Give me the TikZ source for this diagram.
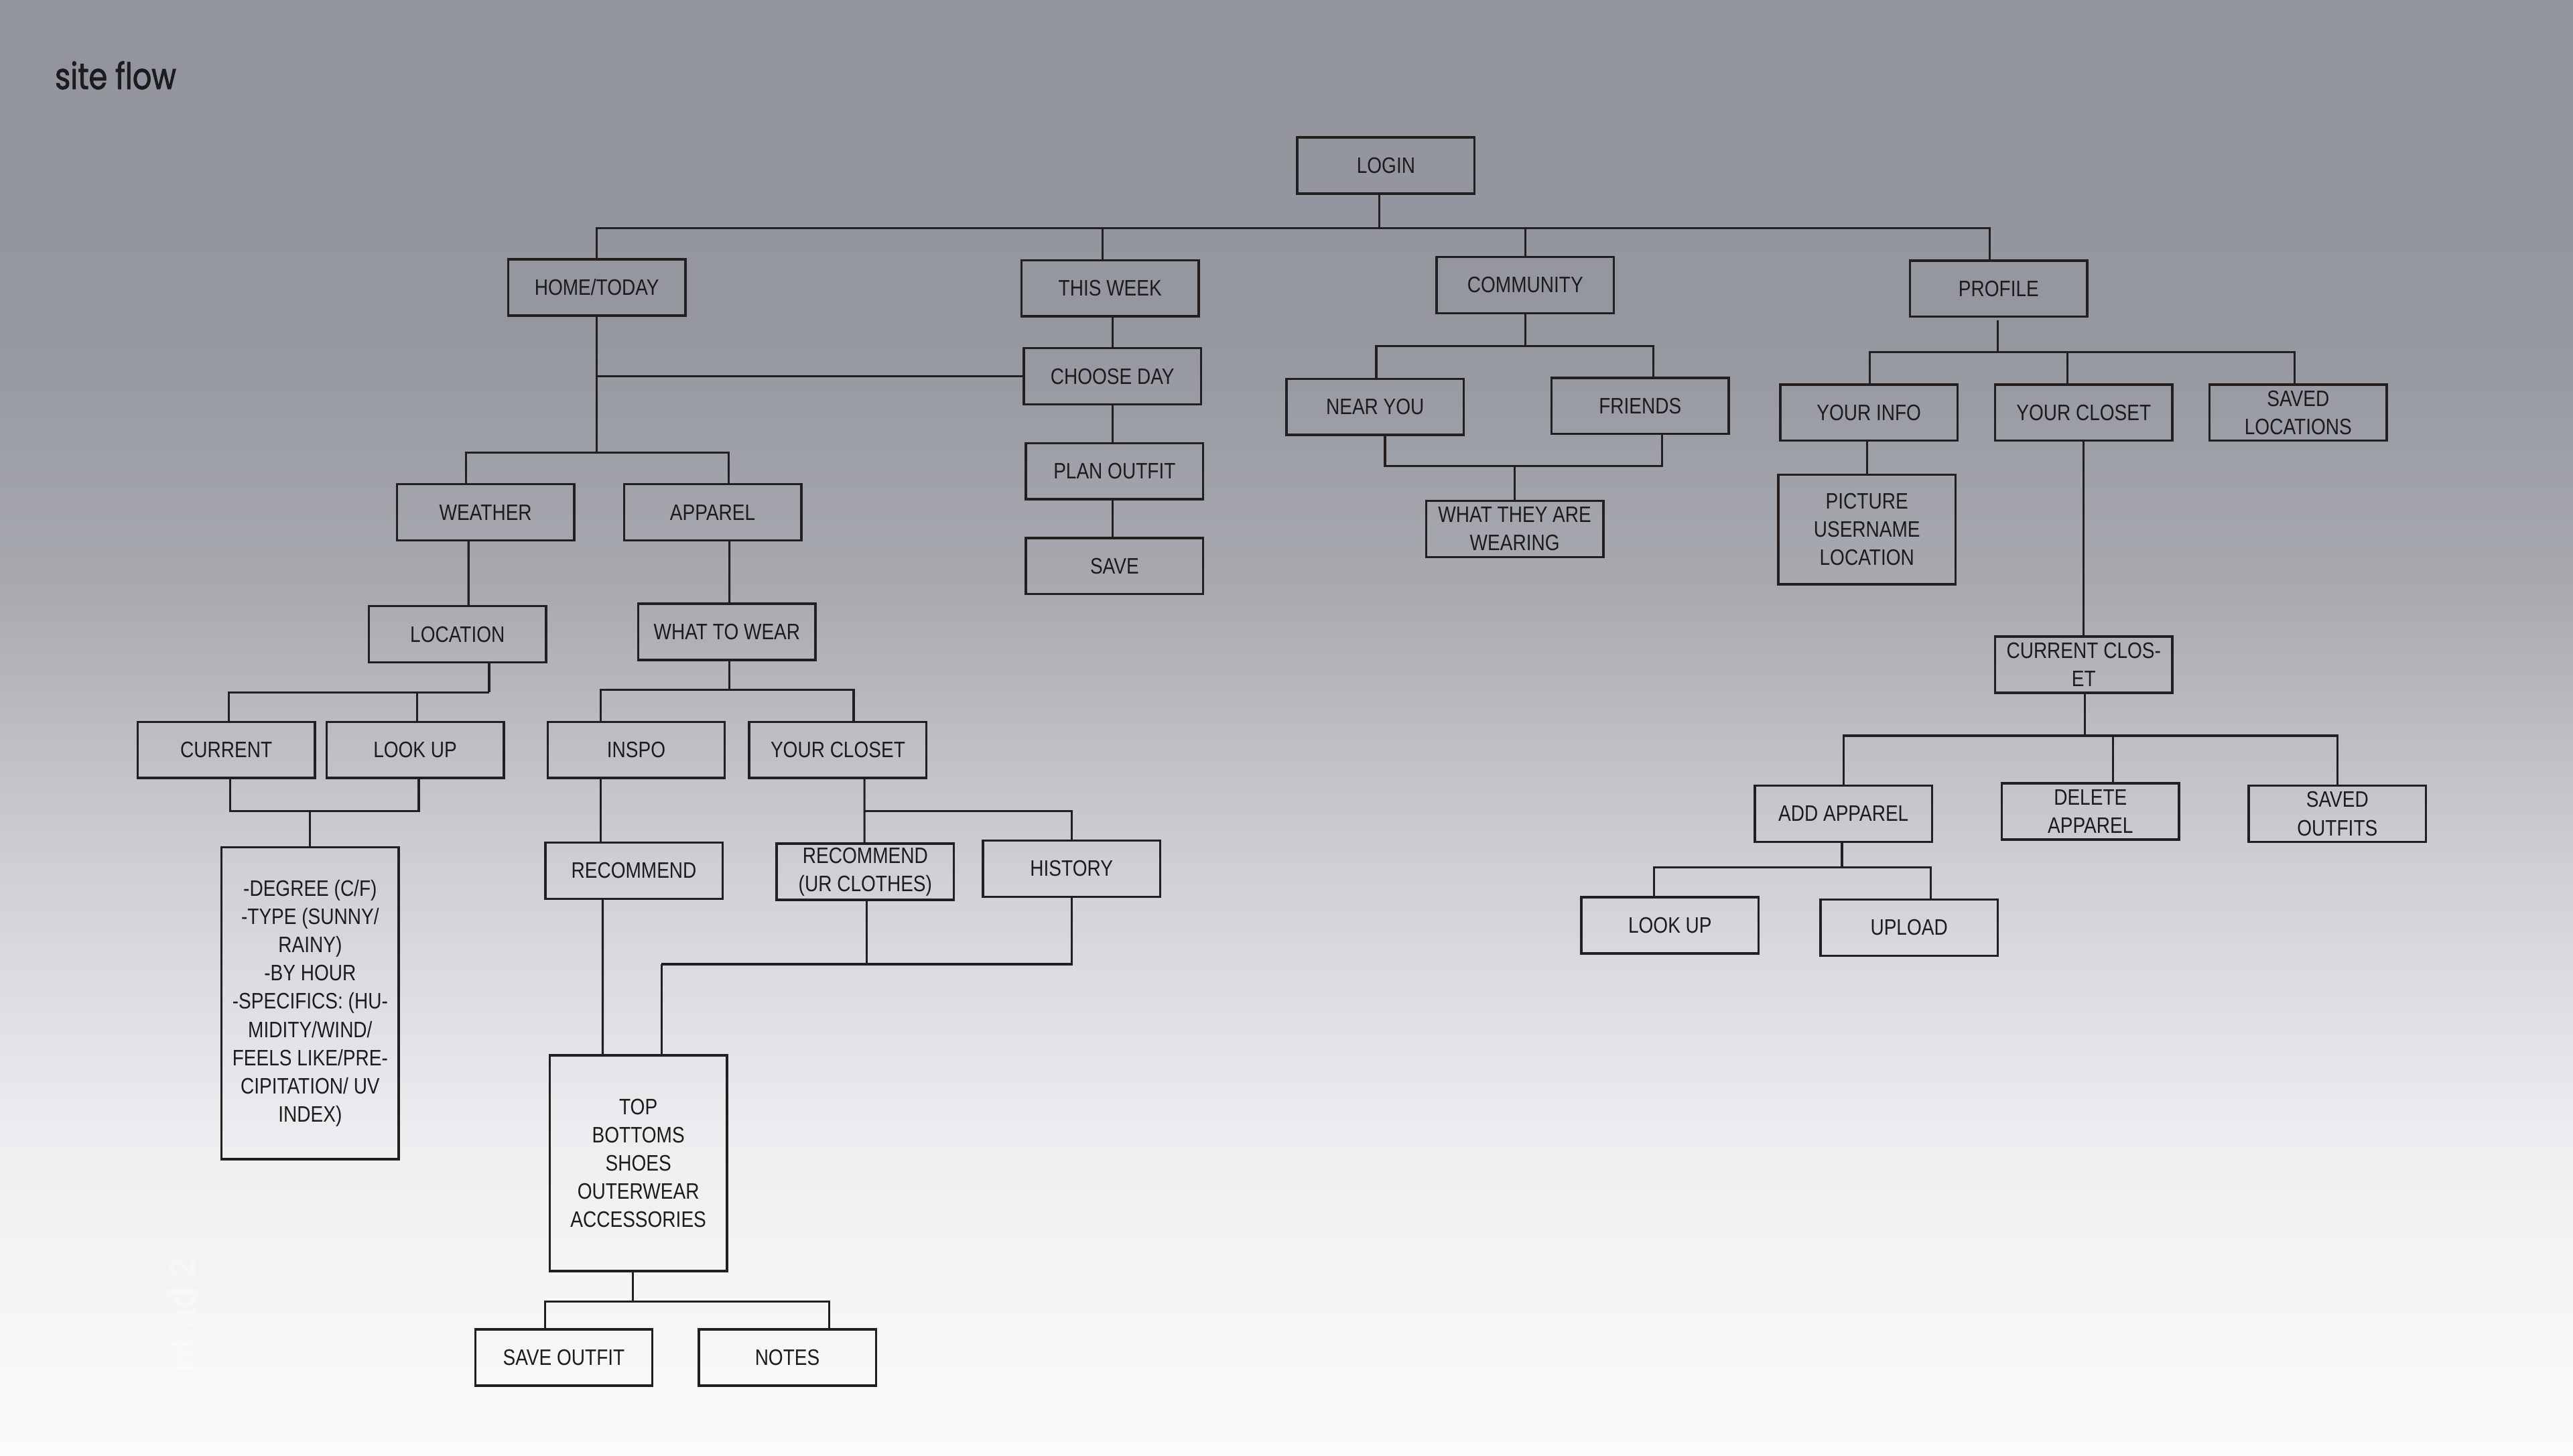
\documentclass[tikz,border=0pt]{standalone}
\usepackage{fontspec}
\setmainfont{Liberation Sans}
\newfontfamily\boxfont[FakeStretch=0.84]{Liberation Sans}
\newfontfamily\titlefont[FakeStretch=0.82,FakeBold=1.6]{Poppins}
\usetikzlibrary{calc}
\definecolor{linec}{HTML}{231F20}
\definecolor{txt}{HTML}{1C1C1E}
\definecolor{bg0}{RGB}{146,149,157}
\definecolor{bg1}{RGB}{148,151,158}
\definecolor{bg2}{RGB}{168,170,176}
\definecolor{bg3}{RGB}{205,206,210}
\definecolor{bg4}{RGB}{238,239,241}
\definecolor{bg5}{RGB}{251,251,251}
\begin{document}
\begin{tikzpicture}[x=0.0245cm,y=-0.0245cm,
  box/.style={draw=linec,line width=1pt,minimum width=2.646cm,minimum height=0.838cm,
    inner sep=0pt,align=center,text=txt,font=\boxfont\fontsize{9.5}{12}\selectfont},
  conn/.style={draw=linec,line width=0.9pt}]
\useasboundingbox (0,0) rectangle (1568,887);
% background
\shade[top color=bg0,bottom color=bg1] (0,0) rectangle (1568,201);
\shade[top color=bg1,bottom color=bg2] (0,200) rectangle (1568,361);
\shade[top color=bg2,bottom color=bg3] (0,360) rectangle (1568,521);
\shade[top color=bg3,bottom color=bg4] (0,520) rectangle (1568,701);
\shade[top color=bg4,bottom color=bg5] (0,700) rectangle (1568,887);

% title
\node[anchor=base west,inner sep=0pt,text=txt,font=\titlefont\fontsize{15.5}{18}\selectfont] (title) at (33.2,54.3) {site flow};
\node[rotate=90,inner sep=0pt,text=white,opacity=0.3,font=\bfseries\fontsize{15}{18}\selectfont] (printad) at (113,815) {print ad 2};

% nodes
\node[box] (login) at (844.6,100.9) {LOGIN};
\node[box] (home) at (363.7,175.2) {HOME/TODAY};
\node[box] (week) at (676.5,175.7) {THIS WEEK};
\node[box] (comm) at (929.5,173.7) {COMMUNITY};
\node[box] (prof) at (1218,175.9) {PROFILE};
\node[box] (choose) at (677.9,229.3) {CHOOSE DAY};
\node[box] (plan) at (679.2,287.2) {PLAN OUTFIT};
\node[box] (save) at (679.2,344.9) {SAVE};
\node[box] (near) at (838,248) {NEAR YOU};
\node[box] (friends) at (999.5,247.3) {FRIENDS};
\node[box] (wear) at (923.1,322.4) {WHAT THEY ARE\\WEARING};
\node[box] (info) at (1138.9,251.4) {YOUR INFO};
\node[box] (closetR) at (1269.8,251.4) {YOUR CLOSET};
\node[box] (savedloc) at (1400.5,251.4) {SAVED\\LOCATIONS};
\node[box,minimum height=1.634cm] (pic) at (1137.7,322.7) {PICTURE\\USERNAME\\LOCATION};
\node[box] (curcl) at (1269.8,405.1) {CURRENT CLOS-\\ET};
\node[box] (add) at (1123.4,495.9) {ADD APPAREL};
\node[box] (del) at (1273.9,494.5) {DELETE\\APPAREL};
\node[box] (savedout) at (1424.4,495.9) {SAVED\\OUTFITS};
\node[box] (lookR) at (1017.7,563.9) {LOOK UP};
\node[box] (upload) at (1163.4,565.3) {UPLOAD};
\node[box] (weather) at (295.9,312.2) {WEATHER};
\node[box] (apparel) at (434.3,312.2) {APPAREL};
\node[box] (location) at (278.8,386.5) {LOCATION};
\node[box] (wtw) at (443,385.1) {WHAT TO WEAR};
\node[box] (current) at (137.9,457) {CURRENT};
\node[box] (lookL) at (253,457) {LOOK UP};
\node[box] (inspo) at (387.7,457) {INSPO};
\node[box] (closetL) at (510.6,457) {YOUR CLOSET};
\node[box,minimum height=4.655cm] (detail) at (189,611.4) {-DEGREE (C/F)\\-TYPE (SUNNY/\\RAINY)\\-BY HOUR\\-SPECIFICS: (HU-\\MIDITY/WIND/\\FEELS LIKE/PRE-\\CIPITATION/ UV\\INDEX)};
\node[box] (recommend) at (386.3,530.6) {RECOMMEND};
\node[box] (recur) at (527.3,531.2) {RECOMMEND\\(UR CLOTHES)};
\node[box] (history) at (653,529.4) {HISTORY};
\node[box,minimum height=3.224cm] (top) at (389,708.8) {TOP\\BOTTOMS\\SHOES\\OUTERWEAR\\ACCESSORIES};
\node[box] (saveout) at (343.6,827.3) {SAVE OUTFIT};
\node[box] (notes) at (479.8,827.3) {NOTES};

% connectors: login
\coordinate (j1) at ($(login.south)+(-4.2,20.2)$);
\draw[conn] ($(login.south)+(-4.2,0)$) -- (j1);
\draw[conn] (home.north) |- (j1);
\draw[conn] ($(week.north)+(-4.7,0)$) |- (j1);
\draw[conn] (comm.north) |- (j1);
\draw[conn] ($(prof.north)+(-5.6,0)$) |- (j1);
% home
\coordinate (j2) at ($(home.south)+(0,82.7)$);
\draw[conn] (home.south) -- (j2);
\draw[conn] (home.south |- choose.west) -- (choose.west);
\draw[conn] ($(weather.north)+(-11.8,0)$) |- (j2);
\draw[conn] ($(apparel.north)+(9.6,0)$) |- (j2);
% this week chain
\draw[conn] (week.south -| choose.north) -- (choose.north);
\draw[conn] (choose.south) -- (choose.south |- plan.north);
\draw[conn] (plan.south -| choose.south) -- (choose.south |- save.north);
% community
\coordinate (j3) at ($(comm.south)+(0,19.5)$);
\draw[conn] (comm.south) -- (j3);
\draw[conn] ($(near.north)+(0.7,0)$) |- (j3);
\draw[conn] ($(friends.north)+(8,0)$) |- (j3);
\coordinate (j4) at ($(wear.north)+(0,-20.6)$);
\draw[conn] ($(near.south)+(6,0)$) |- (j4);
\draw[conn] ($(friends.south)+(13.2,0)$) |- (j4);
\draw[conn] (j4) -- (wear.north);
% profile
\coordinate (j5) at ($(prof.south)+(-0.5,20.7)$);
\draw[conn] ($(prof.south)+(-0.5,1.5)$) -- (j5);
\draw[conn] ($(info.north)+(0.7,0)$) |- (j5);
\draw[conn] ($(closetR.north)+(-9.9,0)$) |- (j5);
\draw[conn] ($(savedloc.north)+(-2.2,0)$) |- (j5);
\draw[conn] (pic.north |- info.south) -- (pic.north);
\draw[conn] (closetR.south) -- (curcl.north);
% current closet
\coordinate (j6) at ($(curcl.south)+(0.8,25.4)$);
\draw[conn] ($(curcl.south)+(0.8,0)$) -- (j6);
\draw[conn] (add.north) |- (j6);
\draw[conn] ($(del.north)+(13.8,0)$) |- (j6);
\draw[conn] (savedout.north) |- (j6);
\coordinate (j7) at ($(add.south)+(-0.9,14.9)$);
\draw[conn] ($(add.south)+(-0.9,0)$) -- (j7);
\draw[conn] ($(lookR.north)+(-9.6,0)$) |- (j7);
\draw[conn] ($(upload.north)+(13.1,0)$) |- (j7);
% weather
\draw[conn] ($(weather.south)+(-10.4,0)$) -- ($(location.north)+(6.7,0)$);
\coordinate (j8) at ($(location.south)+(19.3,17.6)$);
\draw[conn] ($(location.south)+(19.3,0)$) -- (j8);
\draw[conn] ($(current.north)+(1.4,0)$) |- (j8);
\draw[conn] ($(lookL.north)+(1.3,0)$) |- (j8);
\coordinate (j9) at ($(detail.north)+(0,-21.4)$);
\draw[conn] ($(current.south)+(2.3,0)$) |- (j9);
\draw[conn] ($(lookL.south)+(2.2,0)$) |- (j9);
\draw[conn] (j9) -- (detail.north);
% apparel
\draw[conn] ($(apparel.south)+(10.2,0)$) -- ($(wtw.north)+(1.5,0)$);
\coordinate (j10) at ($(wtw.south)+(1.4,17.4)$);
\draw[conn] ($(wtw.south)+(1.4,0)$) -- (j10);
\draw[conn] ($(inspo.north)+(-21.7,0)$) |- (j10);
\draw[conn] ($(closetL.north)+(9.6,0)$) |- (j10);
\draw[conn] ($(inspo.south)+(-21.7,0)$) -- ($(recommend.north)+(-20.3,0)$);
\draw[conn] ($(closetL.south)+(16.2,0)$) -- ($(recur.north)+(-0.5,0)$);
\coordinate (j13) at ($(closetL.south)+(16.2,19.6)$);
\draw[conn] (j13) -| (history.north);
\coordinate (j11) at ($(top.north)+(14.1,-54.7)$);
\draw[conn] ($(recur.south)+(0.8,0)$) |- (j11);
\draw[conn] (history.south) |- (j11);
\draw[conn] (j11) -- ($(top.north)+(14.1,0)$);
\draw[conn] ($(recommend.south)+(-19,0)$) -- ($(top.north)+(-21.7,0)$);
\coordinate (j12) at ($(top.south)+(-3.4,17.9)$);
\draw[conn] ($(top.south)+(-3.4,0)$) -- (j12);
\draw[conn] ($(saveout.north)+(-11.4,0)$) |- (j12);
\draw[conn] ($(notes.north)+(25.5,0)$) |- (j12);
\end{tikzpicture}
\end{document}
